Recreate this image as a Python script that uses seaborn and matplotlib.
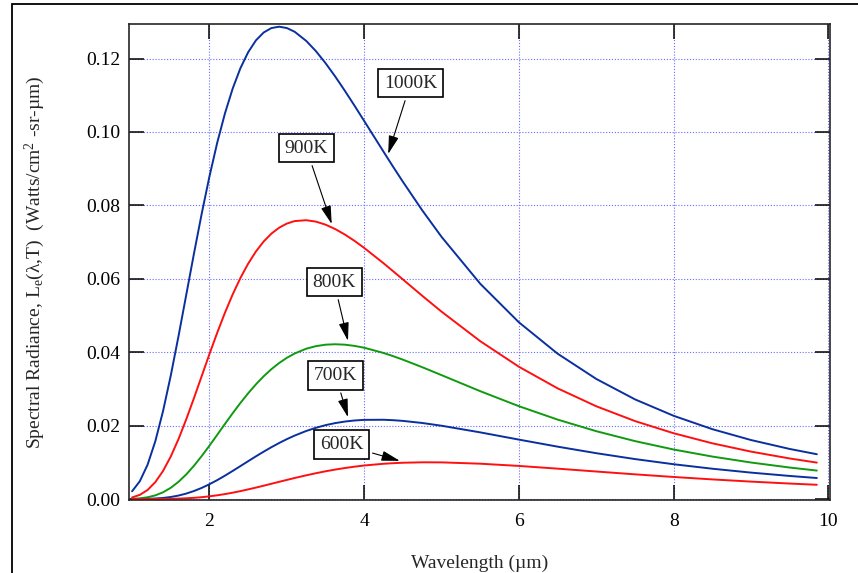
import numpy as np
import pandas as pd
import seaborn as sns
import matplotlib.pyplot as plt
from matplotlib.patches import Rectangle

# Values (W / cm^2-sr-um)
wavelength = [1.0, 1.1, 1.2, 1.3, 1.4, 1.5, 1.6, 1.7, 1.8, 1.9, 2.0, 2.1, 2.2, 2.3, 2.4, 2.5,
              2.6, 2.7, 2.8, 2.9, 3.0, 3.1, 3.25, 3.375, 3.5, 3.625, 3.75, 3.875, 4.0, 4.25,
              4.375, 4.5, 4.75, 5.0, 5.5, 6.0, 6.5, 7.0, 7.5, 8.0, 8.5, 9.0, 9.5, 9.85]

rad_1000 = [0.00211, 0.00485, 0.00933, 0.01573, 0.02395, 0.03365, 0.04438, 0.05563, 0.06690,
            0.07777, 0.08790, 0.09704, 0.10504, 0.11181, 0.11736, 0.12171, 0.12493, 0.12708,
            0.12829, 0.12867, 0.12830, 0.12730, 0.12481, 0.12203, 0.11874, 0.11510, 0.11120,
            0.10714, 0.10297, 0.09460, 0.09046, 0.08642, 0.07864, 0.07140, 0.05863, 0.04812,
            0.03958, 0.03270, 0.02714, 0.02266, 0.01902, 0.01606, 0.01363, 0.01220]
rad_900 = [0.00043, 0.00113, 0.00246, 0.00460, 0.00764, 0.01159, 0.01633, 0.02172, 0.02751,
           0.03351, 0.03950, 0.04529, 0.05074, 0.05574, 0.06021, 0.06411, 0.06742, 0.07014,
           0.07229, 0.07391, 0.07503, 0.07571, 0.07595, 0.07557, 0.07474, 0.07354, 0.07205,
           0.07032, 0.06840, 0.06422, 0.06203, 0.05981, 0.05536, 0.05103, 0.04299, 0.03602,
           0.03014, 0.02526, 0.02123, 0.01791, 0.01517, 0.01291, 0.01104, 0.00992]
rad_800 = [0.00006, 0.00018, 0.00047, 0.00099, 0.00183, 0.00306, 0.00469, 0.00670, 0.00907,
           0.01171, 0.01454, 0.01748, 0.02045, 0.02337, 0.02617, 0.02880, 0.03123, 0.03342,
           0.03536, 0.03704, 0.03846, 0.03963, 0.04094, 0.04164, 0.04204, 0.04216, 0.04204,
           0.04171, 0.04121, 0.03978, 0.03891, 0.03796, 0.03591, 0.03374, 0.02937, 0.02528,
           0.02163, 0.01847, 0.01577, 0.01348, 0.01156, 0.00994, 0.00857, 0.00775]
rad_700 = [0.00000, 0.00002, 0.00005, 0.00014, 0.00029, 0.00055, 0.00094, 0.00148, 0.00218,
           0.00303, 0.00403, 0.00514, 0.00636, 0.00765, 0.00897, 0.01030, 0.01162, 0.01289,
           0.01411, 0.01525, 0.01631, 0.01727, 0.01853, 0.01940, 0.02012, 0.02068, 0.02110,
           0.02139, 0.02156, 0.02159, 0.02147, 0.02128, 0.02071, 0.01996, 0.01815, 0.01618,
           0.01426, 0.01248, 0.01088, 0.00947, 0.00825, 0.00719, 0.00628, 0.00572]
rad_600 = [0.00000, 0.00000, 0.00000, 0.00001, 0.00003, 0.00006, 0.00011, 0.00020, 0.00032,
           0.00050, 0.00073, 0.00101, 0.00134, 0.00172, 0.00215, 0.00262, 0.00311, 0.00362,
           0.00415, 0.00468, 0.00520, 0.00572, 0.00645, 0.00702, 0.00755, 0.00802, 0.00844,
           0.00881, 0.00913, 0.00960, 0.00976, 0.00988, 0.01000, 0.00998, 0.00962, 0.00901,
           0.00827, 0.00749, 0.00672, 0.00600, 0.00534, 0.00474, 0.00421, 0.00388]

temps = ["1000K", "900K", "800K", "700K", "600K"]
colors = ["#0a2f9e", "#ff1010", "#109a10", "#0a2f9e", "#ff1010"]

# label box centre and arrow tip (data coords)
label_pos = [(4.60, 0.1133), (3.25, 0.0956), (3.61, 0.0591), (3.63, 0.0337), (3.71, 0.0149)]
arrow_tip = [(4.31, 0.0940), (3.58, 0.0749), (3.79, 0.0431), (3.79, 0.0223), (4.46, 0.0104)]

df = pd.concat([
    pd.DataFrame({"wavelength": wavelength, "radiance": r, "temp": t})
    for t, r in zip(temps, [rad_1000, rad_900, rad_800, rad_700, rad_600])
])

sns.set_style("ticks")
plt.rcParams["font.family"] = ["Liberation Serif", "DejaVu Serif"]
plt.rcParams["mathtext.fontset"] = "custom"
plt.rcParams["mathtext.rm"] = "Liberation Serif"
plt.rcParams["mathtext.it"] = "Liberation Serif:italic"

fig = plt.figure(figsize=(8.58, 5.73), dpi=100)
ax = fig.add_axes([129 / 858, 1 - 500 / 573, 701 / 858, 476 / 573])

sns.lineplot(data=df, x="wavelength", y="radiance", hue="temp", hue_order=temps,
             palette=dict(zip(temps, colors)), linewidth=1.4, legend=False, ax=ax)

ax.set_xlim(0.96, 10.02)
ax.set_ylim(-0.00027, 0.1294)
ax.set_xticks([2, 4, 6, 8, 10])
ax.set_yticks([0.0, 0.02, 0.04, 0.06, 0.08, 0.10, 0.12])
ax.yaxis.set_major_formatter(plt.FormatStrFormatter("%.2f"))
ax.grid(True, color="#6a6aff", linestyle=(0, (1, 1.6)), linewidth=0.8)
ax.set_axisbelow(True)
for s in ax.spines.values():
    s.set_linewidth(1.2)
ax.tick_params(direction="in", length=10.5, width=1.1, top=True, right=True,
               labelsize=14, colors="black")
ax.tick_params(axis="x", pad=9)
ax.tick_params(axis="y", pad=6)

ax.set_xlabel("Wavelength (µm)", fontsize=14, va="top")
ax.xaxis.set_label_coords(0.5, -0.115)
ax.set_ylabel("Spectral Radiance, L$_\\mathrm{e}$(λ,T)  (Watts/cm$^{2}$ -sr-µm)", fontsize=14)
ax.yaxis.set_label_coords(-0.117, 0.5)

for t, p, tip in zip(temps, label_pos, arrow_tip):
    ax.annotate(t, xy=tip, xytext=p, ha="center", va="center", fontsize=14,
                bbox=dict(boxstyle="square,pad=0.3", fc="white", ec="black", lw=1.2),
                arrowprops=dict(arrowstyle="-|>,head_length=0.8,head_width=0.22",
                                color="black", lw=0.8, shrinkA=2, shrinkB=0,
                                mutation_scale=14))

# outer frame of the original figure (cropped on right and bottom)
fig.add_artist(Rectangle((12 / 858, -0.2), 1.5, 1.2 - 4 / 573, transform=fig.transFigure,
                         fill=False, ec="black", lw=1.3, clip_on=False))

fig.savefig("out.png", dpi=100)
